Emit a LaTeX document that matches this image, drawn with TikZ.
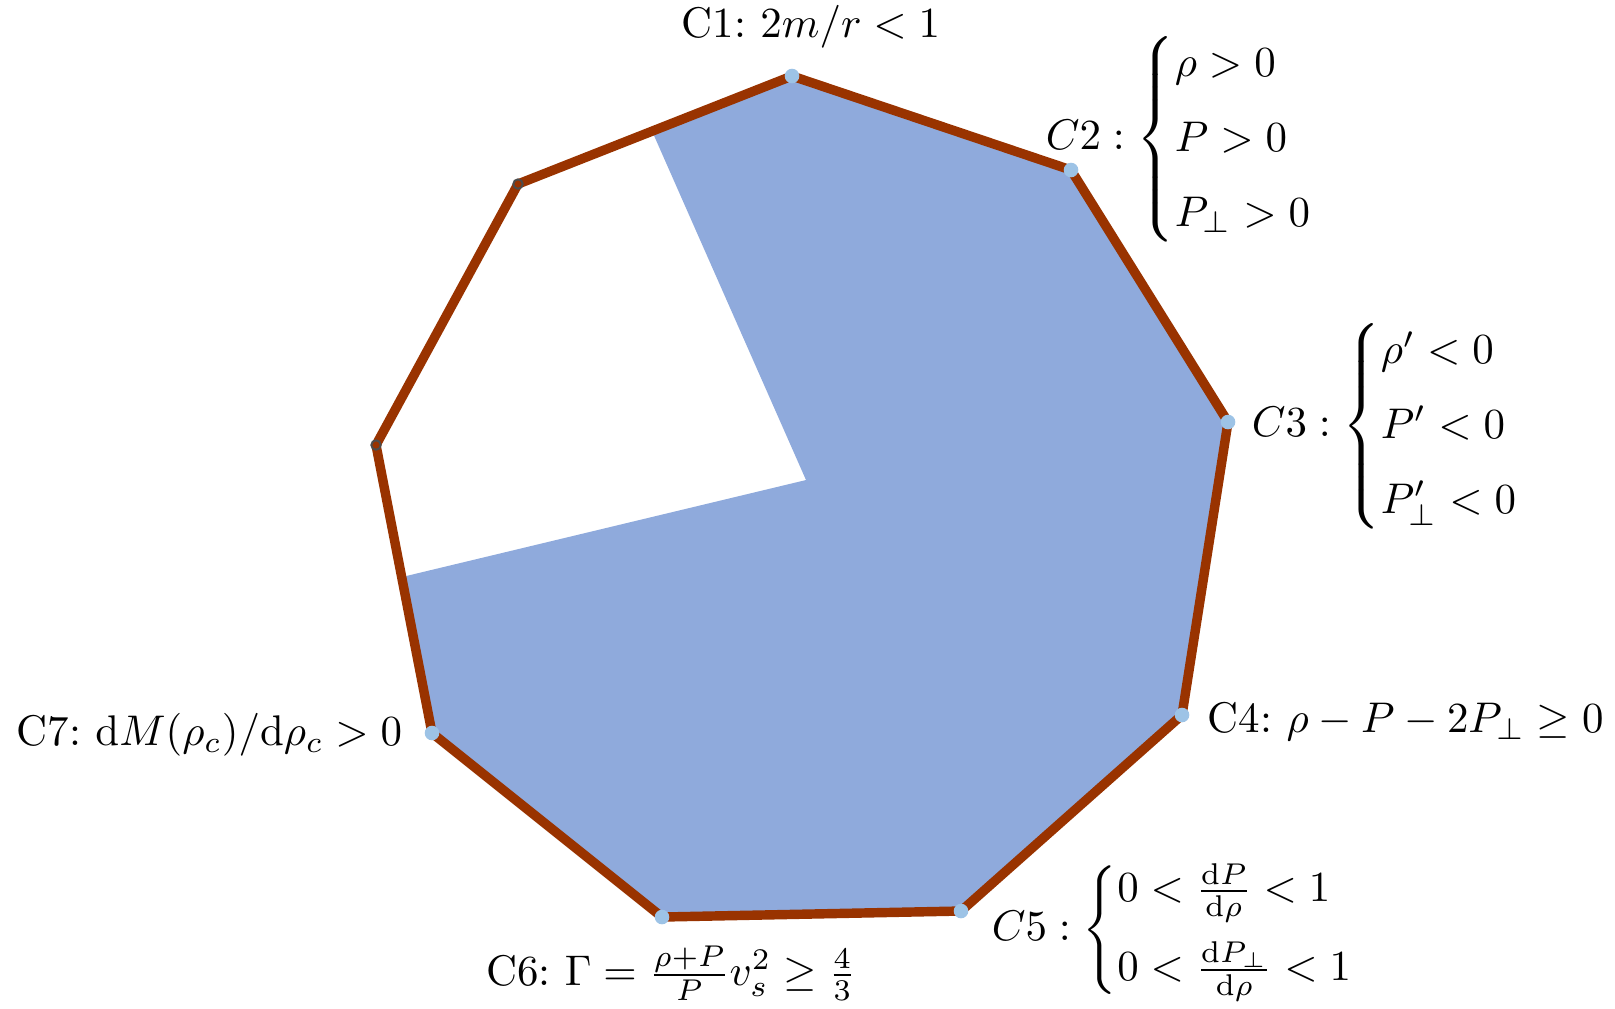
\documentclass[tikz,border=0pt]{standalone}
\usepackage{amsmath,amssymb}
\usetikzlibrary{positioning}

\definecolor{rimred}{RGB}{153,51,0}
\definecolor{areablue}{RGB}{143,170,220}
\definecolor{dotblue}{RGB}{157,195,230}

\begin{document}
\begin{tikzpicture}[
  x=0.0082cm, y=-0.0082cm,
  font=\normalsize\frenchspacing,
  rim/.style={draw=rimred, line width=2.2pt, line join=round},
  area/.style={fill=areablue},
  okdot/.style={circle, fill=dotblue, minimum size=3.4pt, inner sep=0pt},
  nodot/.style={circle, draw=black!70, fill=rimred, line width=0.45pt, minimum size=2.2pt, inner sep=0pt},
  cond/.style={inner sep=0pt}
]
  \useasboundingbox (0,0) rectangle (1615,1008);
  % corners of the nonagon
  \coordinate (v1) at (792,76);
  \coordinate (v2) at (1071,170);
  \coordinate (v3) at (1228,422);
  \coordinate (v4) at (1182,715);
  \coordinate (v5) at (961,911);
  \coordinate (v6) at (662,917);
  \coordinate (v7) at (432,733);
  \coordinate (v8) at (376,445);
  \coordinate (v9) at (518,184);
  \coordinate (mid) at (806,480);
  \coordinate (cutA) at (652,131);
  \coordinate (cutB) at (402,577);
  % satisfied part
  \fill[area] (mid) -- (cutA) -- (v1) -- (v2) -- (v3) -- (v4) -- (v5) -- (v6) -- (v7) -- (cutB) -- cycle;
  \draw[rim] (v1) -- (v2) -- (v3) -- (v4) -- (v5) -- (v6) -- (v7) -- (v8) -- (v9) -- cycle;
  \foreach \v in {v1,v2,v3,v4,v5,v6,v7}
    \node[okdot] at (\v) {};
  \node[nodot] at (v8) {};
  \node[nodot] at (v9) {};
  % conditions
  \node[cond] (c1) at (811,27) {C1: $2m/r<1$};
  \node[cond, anchor=west] (c2) at (1045,139) {$C2:\begin{cases}\rho>0\\[3pt] P>0\\[3pt] P_\perp>0\end{cases}$};
  \node[cond, anchor=west] (c3) at (1251,426) {$C3:\begin{cases}\rho'<0\\[3pt] P'<0\\[3pt] P'_\perp<0\end{cases}$};
  \node[cond, anchor=west] (c4) at (1207,722) {C4: $\rho-P-2P_\perp\geq0$};
  \node[cond, anchor=west] (c5) at (991,930) {$C5:\begin{cases}0<\frac{\mathrm{d}P}{\mathrm{d}\rho}<1\\[4pt] 0<\frac{\mathrm{d}P_\perp}{\mathrm{d}\rho}<1\end{cases}$};
  \node[cond] (c6) at (671,973) {C6: $\Gamma=\frac{\rho+P}{P}v_s^2\geq\frac{4}{3}$};
  \node[cond, anchor=east] (c7) at (403,735) {C7: $\mathrm{d}M(\rho_c)/\mathrm{d}\rho_c>0$};
\end{tikzpicture}
\end{document}
